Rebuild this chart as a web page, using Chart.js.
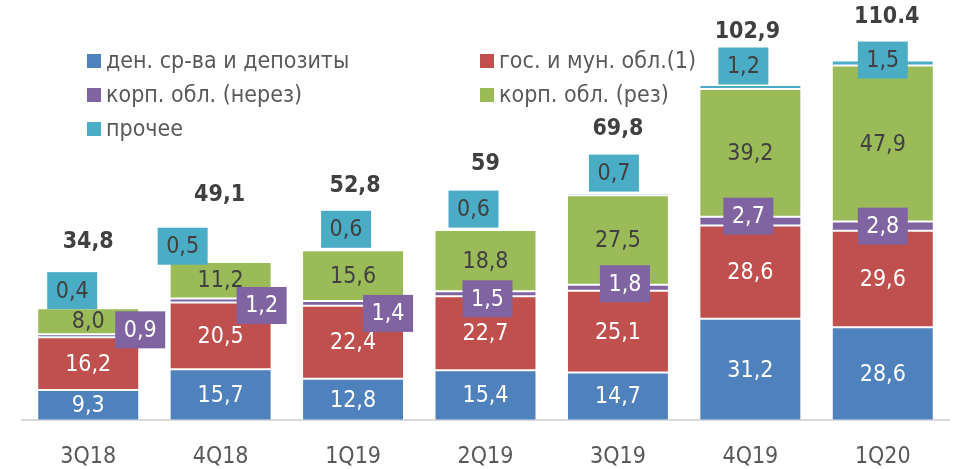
<!DOCTYPE html>
<html>
<head>
<meta charset="utf-8">
<script src="https://cdn.jsdelivr.net/npm/chart.js@4/dist/chart.umd.min.js"></script>
<style>
  html, body { margin: 0; padding: 0; background: #fff; }
  #wrap { width: 953px; height: 469px; }
</style>
</head>
<body>
<div id="wrap"><canvas id="portfolioChart"></canvas></div>
<script>
// quarters and series values (bln)
const quarters = ['3Q18', '4Q18', '1Q19', '2Q19', '3Q19', '4Q19', '1Q20'];
const cashDeposits = [9.3, 15.7, 12.8, 15.4, 14.7, 31.2, 28.6];
const govBonds = [16.2, 20.5, 22.4, 22.7, 25.1, 28.6, 29.6];
const corpNonRes = [0.9, 1.2, 1.4, 1.5, 1.8, 2.7, 2.8];
const corpRes = [8.0, 11.2, 15.6, 18.8, 27.5, 39.2, 47.9];
const other = [0.4, 0.5, 0.6, 0.6, 0.7, 1.2, 1.5];
const totalLabels = ['34,8', '49,1', '52,8', '59', '69,8', '102,9', '110.4'];

const seriesNames = ['ден. ср-ва и депозиты', 'гос. и мун. обл.(1)', 'корп. обл. (нерез)', 'корп. обл. (рез)', 'прочее'];
const colors = ['#4F81BD', '#C0504D', '#8064A2', '#9BBB59', '#4BACC6'];

// manual label nudges, like in the original slide
const purpleShift = [[52, -6], [41, 5], [35, 10], [2, 5], [7, -4], [-2, -5], [0, 0]];
const tealShift = [[-16, -17], [-38, -15], [-7, -20], [-12, -20], [-4, -21], [-7, -21], [0, -3]];
const totalShift = [[0, -65], [-1, -65], [2, -62], [0, -64], [0, -64], [-3, -53], [4, -44]];

const FONT = "'DejaVu Sans Condensed', 'DejaVu Sans', sans-serif";

function fmt(v) {
    return v.toFixed(1).replace('.', ',');
}

const labelPlugin = {
    id: 'labelPlugin',
    afterDatasetsDraw(chart) {
        const ctx = chart.ctx;
        ctx.save();
        ctx.textAlign = 'center';
        ctx.textBaseline = 'middle';
        ctx.font = '23px ' + FONT;
        chart.data.datasets.forEach((ds, di) => {
            const meta = chart.getDatasetMeta(di);
            meta.data.forEach((bar, i) => {
                const cx = bar.x;
                const cy = (bar.y + bar.base) / 2;
                const text = fmt(ds.data[i]);
                if (di === 2 || di === 4) {
                    const sh = di === 2 ? purpleShift[i] : tealShift[i];
                    const bx = cx + sh[0], by = cy + sh[1];
                    ctx.fillStyle = colors[di];
                    ctx.fillRect(bx - 25, by - 18.5, 50, 37);
                    ctx.fillStyle = di === 2 ? '#ffffff' : '#404040';
                    ctx.fillText(text, bx, by + 1);
                } else {
                    ctx.fillStyle = di === 3 ? '#404040' : '#ffffff';
                    ctx.fillText(text, cx, cy + 1);
                }
            });
        });
        // totals above bars
        const top = chart.getDatasetMeta(chart.data.datasets.length - 1);
        ctx.font = 'bold 23px ' + FONT;
        ctx.fillStyle = '#404040';
        top.data.forEach((bar, i) => {
            ctx.fillText(totalLabels[i], bar.x + totalShift[i][0], bar.y + totalShift[i][1]);
        });

        // legend inside the plot
        const legendPos = [[87, 61], [480, 61], [87, 95], [480, 95], [87, 129]];
        ctx.font = '23px ' + FONT;
        ctx.textAlign = 'left';
        seriesNames.forEach((name, k) => {
            const [lx, ly] = legendPos[k];
            ctx.fillStyle = colors[k];
            ctx.fillRect(lx, ly - 7, 14, 14);
            ctx.fillStyle = '#595959';
            ctx.fillText(name, lx + 19, ly + 1);
        });
        ctx.restore();
    }
};

const seriesData = [cashDeposits, govBonds, corpNonRes, corpRes, other];

new Chart(document.getElementById('portfolioChart'), {
    type: 'bar',
    data: {
        labels: quarters,
        datasets: seriesData.map((d, k) => ({
            label: seriesNames[k],
            data: d,
            backgroundColor: colors[k],
            borderColor: 'rgba(255,255,255,0.45)',
            borderWidth: 1,
            borderSkipped: false,
            categoryPercentage: 1,
            barPercentage: 0.77
        }))
    },
    options: {
        responsive: true,
        maintainAspectRatio: false,
        animation: false,
        layout: { padding: { left: 22, right: 4, top: 0, bottom: -25 } },
        scales: {
            x: {
                stacked: true,
                grid: { display: false, drawTicks: false },
                border: { color: '#D9D9D9', width: 2 },
                ticks: { color: '#595959', padding: 23, font: { family: FONT, size: 23 } }
            },
            y: {
                stacked: true,
                display: false,
                min: 0,
                max: 129
            }
        },
        plugins: {
            legend: { display: false },
            tooltip: { enabled: false }
        }
    },
    plugins: [labelPlugin]
});
</script>
</body>
</html>
